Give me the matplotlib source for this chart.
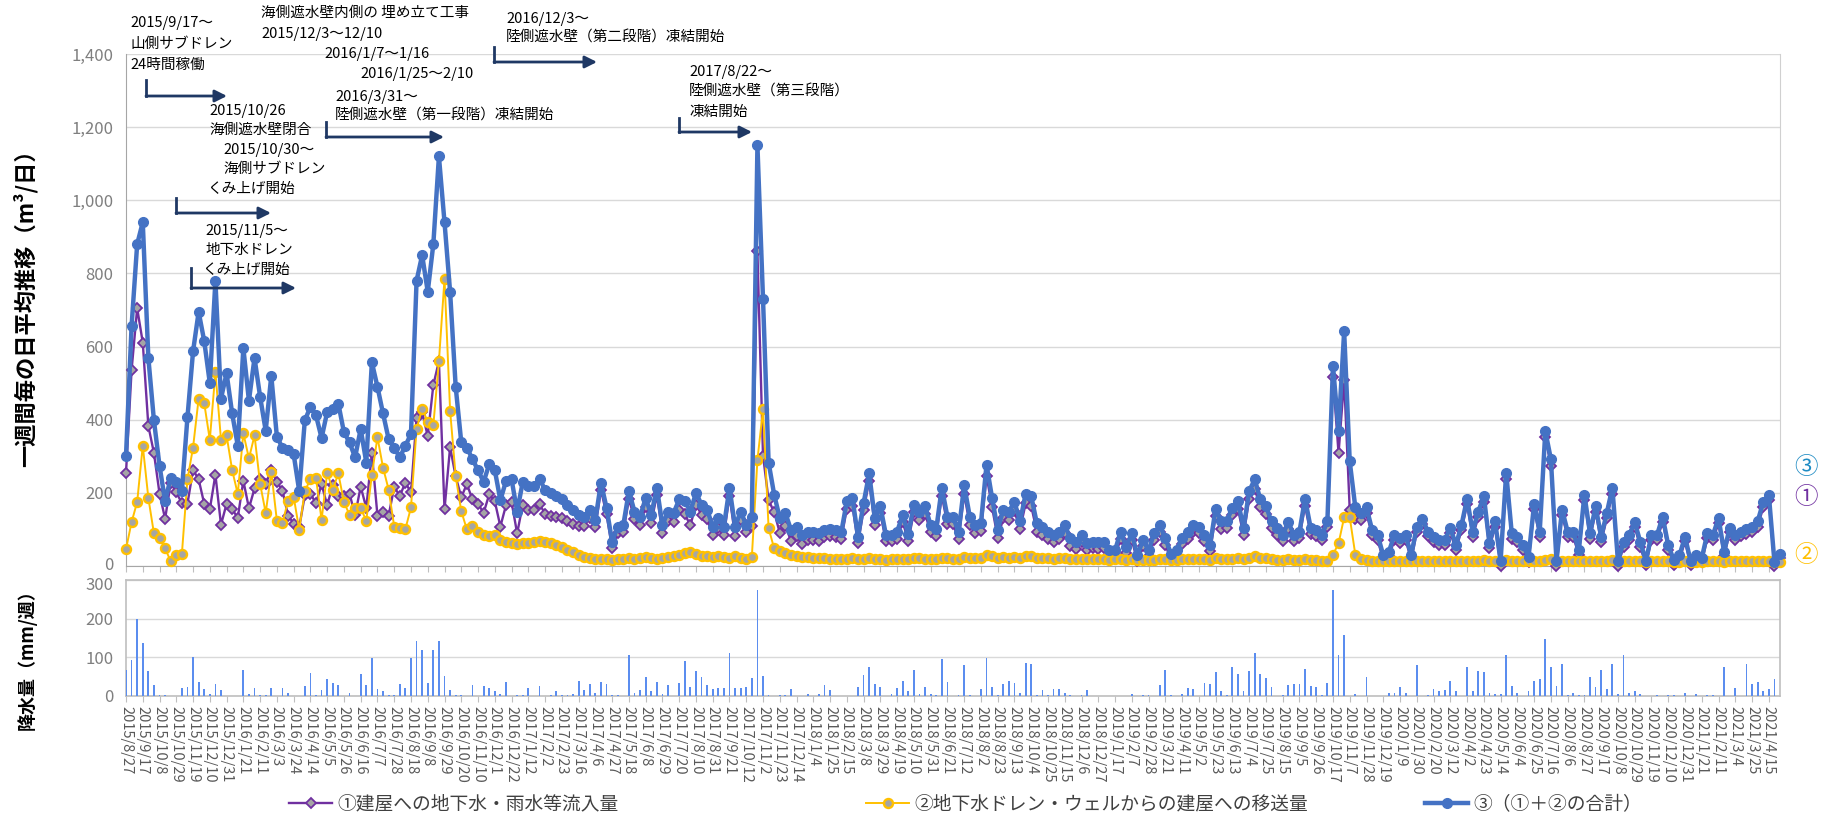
import numpy as np
import pandas as pd
import matplotlib
matplotlib.use('Agg')
import matplotlib.pyplot as plt
import matplotlib.transforms as mtransforms
from matplotlib.lines import Line2D
from matplotlib.patches import FancyArrowPatch
from matplotlib.ticker import FuncFormatter

plt.rcParams['font.family'] = ['Noto Sans CJK JP', 'DejaVu Sans']

# weekly categories, one per week from 2015/8/27
start_date = '2015-08-27'
n_weeks = 297

# ③ total (m3/day)
total = [
    301, 656, 880, 940, 569, 398, 274, 177, 241, 230,
    205, 407, 587, 695, 615, 500, 780, 458, 527, 417,
    329, 596, 452, 569, 463, 370, 520, 354, 323, 317,
    306, 205, 398, 435, 412, 350, 421, 430, 444, 366,
    338, 297, 375, 283, 557, 490, 417, 347, 324, 297,
    329, 361, 780, 850, 750, 880, 1120, 940, 750, 490,
    338, 324, 292, 262, 230, 278, 262, 180, 232, 237,
    149, 230, 218, 218, 237, 209, 200, 191, 182, 168,
    154, 140, 135, 154, 126, 228, 159, 66, 108, 112,
    205, 149, 135, 186, 140, 214, 112, 149, 145, 182,
    177, 149, 200, 168, 154, 108, 131, 108, 214, 108,
    149, 112, 135, 1150, 730, 283, 195, 131, 145, 99,
    108, 85, 94, 94, 89, 99, 101, 99, 92, 177,
    186, 80, 172, 253, 131, 163, 85, 85, 94, 140,
    87, 168, 149, 163, 112, 101, 214, 135, 135, 92,
    221, 135, 112, 117, 277, 186, 99, 154, 149, 175,
    122, 197, 191, 117, 108, 94, 85, 94, 111, 76,
    66, 85, 62, 66, 66, 66, 43, 43, 94, 53,
    89, 29, 71, 43, 89, 112, 76, 34, 43, 77,
    92, 112, 108, 85, 57, 157, 122, 124, 159, 177,
    103, 205, 237, 182, 163, 122, 103, 85, 120, 85,
    94, 184, 105, 99, 85, 122, 547, 370, 642, 286,
    160, 145, 160, 99, 85, 29, 39, 85, 76, 85,
    29, 108, 129, 94, 80, 71, 71, 105, 57, 112,
    184, 94, 149, 191, 62, 122, 14, 255, 89, 80,
    57, 25, 170, 94, 369, 292, 14, 154, 94, 94,
    43, 195, 89, 163, 80, 145, 214, 14, 66, 85,
    120, 66, 14, 85, 85, 135, 57, 16, 29, 80,
    14, 29, 22, 89, 85, 131, 39, 105, 85, 94,
    100, 108, 122, 175, 195, 12, 34,
]

# ② transfer from groundwater drain / wells (m3/day)
drain = [
    46, 120, 175, 329, 186, 89, 76, 48, 13, 29,
    33, 237, 324, 458, 445, 345, 530, 345, 357, 262,
    197, 363, 294, 357, 225, 145, 258, 124, 117, 179,
    190, 99, 205, 237, 241, 126, 255, 209, 253, 175,
    140, 158, 158, 124, 249, 352, 269, 209, 108, 105,
    101, 160, 375, 430, 395, 385, 560, 785, 425, 245,
    150, 100, 110, 92, 85, 82, 85, 72, 66, 62,
    60, 62, 64, 66, 68, 66, 62, 58, 52, 45,
    38, 30, 25, 22, 20, 20, 18, 17, 18, 20,
    22, 20, 22, 24, 22, 20, 22, 25, 26, 30,
    35, 38, 32, 28, 26, 24, 28, 24, 22, 26,
    22, 18, 25, 290, 428, 103, 48, 40, 35, 30,
    27, 25, 24, 22, 22, 21, 20, 20, 19, 20,
    21, 18, 19, 21, 20, 19, 17, 18, 19, 20,
    18, 21, 22, 20, 19, 18, 22, 21, 20, 19,
    24, 22, 21, 22, 30, 26, 22, 24, 23, 25,
    22, 26, 27, 23, 22, 21, 20, 21, 22, 20,
    19, 20, 19, 18, 19, 18, 17, 18, 19, 17,
    18, 16, 17, 16, 17, 18, 18, 16, 17, 18,
    19, 20, 19, 18, 17, 21, 20, 19, 20, 21,
    19, 22, 26, 22, 21, 19, 17, 16, 18, 16,
    17, 19, 17, 16, 15, 14, 31, 62, 133, 133,
    31, 20, 16, 15, 14, 13, 13, 14, 14, 13,
    13, 15, 14, 13, 14, 13, 13, 14, 13, 14,
    15, 14, 15, 16, 14, 14, 13, 16, 15, 14,
    13, 13, 15, 14, 17, 18, 13, 15, 14, 14,
    13, 15, 14, 15, 14, 15, 16, 13, 13, 14,
    14, 13, 12, 13, 13, 14, 13, 12, 12, 13,
    12, 12, 12, 13, 13, 14, 12, 13, 13, 13,
    13, 14, 14, 15, 15, 11, 12,
]

# weekly rainfall (mm/week)
rain = [
    67, 93, 198, 136, 65, 29, 3, 3, 0, 0,
    21, 24, 100, 36, 19, 4, 32, 16, 0, 0,
    0, 67, 5, 21, 3, 3, 21, 0, 21, 8,
    0, 0, 27, 60, 3, 16, 44, 34, 29, 0,
    8, 0, 56, 28, 99, 19, 13, 3, 3, 31,
    21, 98, 143, 118, 33, 120, 143, 52, 16, 3,
    3, 0, 28, 0, 26, 21, 13, 5, 37, 0,
    3, 3, 21, 0, 26, 0, 3, 13, 3, 3,
    5, 39, 16, 32, 7, 36, 32, 3, 3, 0,
    105, 7, 15, 49, 13, 35, 4, 28, 0, 34,
    90, 23, 64, 49, 28, 19, 21, 21, 112, 21,
    21, 24, 47, 275, 53, 3, 0, 3, 3, 18,
    0, 0, 4, 0, 4, 28, 16, 0, 0, 0,
    0, 24, 54, 74, 31, 24, 0, 4, 21, 38,
    14, 67, 6, 24, 6, 3, 96, 37, 0, 3,
    80, 3, 0, 19, 98, 24, 3, 31, 39, 33,
    8, 85, 82, 3, 16, 3, 18, 19, 8, 3,
    0, 3, 16, 0, 0, 0, 0, 0, 0, 0,
    5, 0, 3, 3, 0, 28, 66, 3, 0, 5,
    21, 19, 0, 34, 30, 63, 12, 3, 74, 56,
    13, 64, 110, 57, 47, 24, 0, 3, 29, 32,
    30, 69, 26, 22, 3, 34, 275, 106, 158, 0,
    4, 0, 49, 0, 0, 0, 8, 8, 24, 8,
    0, 81, 0, 3, 18, 14, 16, 39, 14, 0,
    74, 14, 64, 62, 8, 4, 6, 107, 27, 8,
    0, 13, 39, 45, 147, 76, 27, 82, 3, 7,
    3, 3, 49, 24, 68, 17, 84, 6, 106, 8,
    13, 4, 0, 0, 3, 0, 3, 3, 0, 7,
    0, 4, 0, 3, 3, 0, 74, 0, 21, 0,
    84, 31, 37, 14, 19, 44, 0,
]

legend_labels = ['①建屋への地下水・雨水等流入量',
                 '②地下水ドレン・ウェルからの建屋への移送量',
                 '③（①＋②の合計）']

# event notes: (text, x px, y px)
notes = [
    ('2015/9/17～', 130, 23), ('山側サブドレン', 130, 44), ('24時間稼働', 130, 65),
    ('海側遮水壁内側の 埋め立て工事', 261, 13), ('2015/12/3～12/10', 261, 34),
    ('2016/1/7～1/16', 324, 54), ('2016/1/25～2/10', 360, 74),
    ('2016/3/31～', 335, 97), ('陸側遮水壁（第一段階）凍結開始', 335, 116),
    ('2015/10/26', 209, 111), ('海側遮水壁閉合', 209, 130),
    ('2015/10/30～', 223, 150), ('海側サブドレン', 223, 169), ('くみ上げ開始', 207, 189),
    ('2015/11/5～', 205, 231), ('地下水ドレン', 205, 250), ('くみ上げ開始', 202, 270),
    ('2016/12/3～', 506, 19), ('陸側遮水壁（第二段階）凍結開始', 506, 38),
    ('2017/8/22～', 689, 72), ('陸側遮水壁（第三段階）', 689, 92), ('凍結開始', 689, 112),
]
# arrows: (x of vertical stem, stem top, stem bottom, arrow end x) in px
arrows = [(146, 80, 96, 227), (326, 122, 137, 444), (176, 198, 213, 271),
          (191, 268, 288, 296), (494, 47, 62, 597), (679, 118, 132, 752)]

W, H = 1827, 825
fig = plt.figure(figsize=(W / 100, H / 100), dpi=100)

def fx(px):
    return px / W

def fy(py):
    return 1 - py / H

total = np.array(total)
drain = np.array(drain)
inflow = total - drain
x = np.arange(n_weeks)
dates = pd.date_range(start_date, periods=n_weeks, freq='7D')
tick_pos = x[::3]
tick_lab = [f'{d.year}/{d.month}/{d.day}' for d in dates[::3]]

L, R = 126, 1780
ax = fig.add_axes([fx(L), fy(566), fx(R - L), (566 - 54) / H])
ax2 = fig.add_axes([fx(L), fy(696), fx(R - L), (696 - 580) / H])

# top panel: weekly average lines
l1, = ax.plot(x, inflow, color='#7030A0', lw=1.7, marker='D', ms=5.5, mfc='#A5A5A5',
              mec='#7030A0', mew=1.3, zorder=3, clip_on=False)
l2, = ax.plot(x, drain, color='#FFC000', lw=1.4, marker='o', ms=6.5, mfc='#A5A5A5',
              mec='#FFC000', mew=1.7, zorder=4, clip_on=False)
l3, = ax.plot(x, total, color='#4472C4', lw=3.2, marker='o', ms=7, mfc='#4472C4',
              mec='#4472C4', zorder=5, clip_on=False)

ax.set_xlim(0, n_weeks - 1)
ax.set_ylim(0, 1400)
ax.set_yticks(range(0, 1401, 200))
ax.yaxis.set_major_formatter(FuncFormatter(lambda v, p: f'{int(v):,}'))
ax.grid(axis='y', color='#D9D9D9', lw=1)
ax.set_axisbelow(True)
ax.set_xticks(tick_pos)
ax.set_xticklabels([])
ax.tick_params(axis='x', length=4, color='#BFBFBF')
ax.tick_params(axis='y', length=0, pad=9, labelsize=12, labelcolor='#7F7F7F')
ax.spines['top'].set_visible(False)
for s in ['left', 'bottom']:
    ax.spines[s].set_color('#A6A6A6')
ax.spines['right'].set_color('#D0D0D0')

# bottom panel: rainfall bars
ax2.bar(x, rain, width=0.32, color='#5B8DEF', zorder=3)
ax2.set_xlim(0, n_weeks - 1)
ax2.set_ylim(0, 300)
ax2.set_yticks([0, 100, 200, 300])
ax2.grid(axis='y', color='#D9D9D9', lw=1)
ax2.set_axisbelow(True)
ax2.set_xticks(tick_pos)
ax2.set_xticklabels(tick_lab, rotation=-90, fontsize=10.5, color='#595959')
ax2.tick_params(axis='x', length=4, color='#BFBFBF', pad=3)
ax2.tick_params(axis='y', length=0, pad=9, labelsize=12, labelcolor='#7F7F7F')
for s in ax2.spines.values():
    s.set_color('#BFBFBF')
    s.set_linewidth(1.2)

# nudge the two labels that meet between the panels apart a little
fig.canvas.draw()
ax.get_yticklabels()[0].set_transform(
    ax.get_yticklabels()[0].get_transform()
    + mtransforms.ScaledTranslation(0, 3 / 100, fig.dpi_scale_trans))
ax2.get_yticklabels()[-1].set_transform(
    ax2.get_yticklabels()[-1].get_transform()
    + mtransforms.ScaledTranslation(0, -3 / 100, fig.dpi_scale_trans))

# axis titles
fig.text(fx(25), fy(303), '一週間毎の日平均推移（m³/日）', rotation=90, ha='center',
         va='center', fontsize=16, fontweight='bold')
fig.text(fx(27), fy(655), '降水量（mm/週）', rotation=90, ha='center',
         va='center', fontsize=13, fontweight='bold')

# event notes and arrows
for txt, px, py in notes:
    fig.text(fx(px), fy(py), txt, ha='left', va='center', fontsize=10.5, color='black')
for xs, yt, yb, xe in arrows:
    fig.add_artist(Line2D([fx(xs), fx(xs)], [fy(yt), fy(yb)], color='#1F3864', lw=2))
    fig.add_artist(FancyArrowPatch((fx(xs), fy(yb)), (fx(xe), fy(yb)),
                                   transform=fig.transFigure, arrowstyle='-|>',
                                   mutation_scale=18, color='#1F3864', lw=2,
                                   shrinkA=0, shrinkB=0))

# series markers at the right edge
fig.text(fx(1806), fy(468), '③', color='#1E8BC3', fontsize=17, ha='center', va='center')
fig.text(fx(1806), fy(498), '①', color='#7030A0', fontsize=17, ha='center', va='center')
fig.text(fx(1806), fy(555), '②', color='#FFC000', fontsize=17, ha='center', va='center')

# legend, one entry per block so each sits where the reference puts it
for handle, label, left in zip([l1, l2, l3], legend_labels, [289, 866, 1425]):
    fig.legend([handle], [label], loc='center left', bbox_to_anchor=(fx(left), fy(804)),
               frameon=False, fontsize=13.5, handlelength=2.3, handletextpad=0.3,
               borderpad=0, borderaxespad=0, labelcolor='#404040')

fig.savefig('out.png', dpi=100)
